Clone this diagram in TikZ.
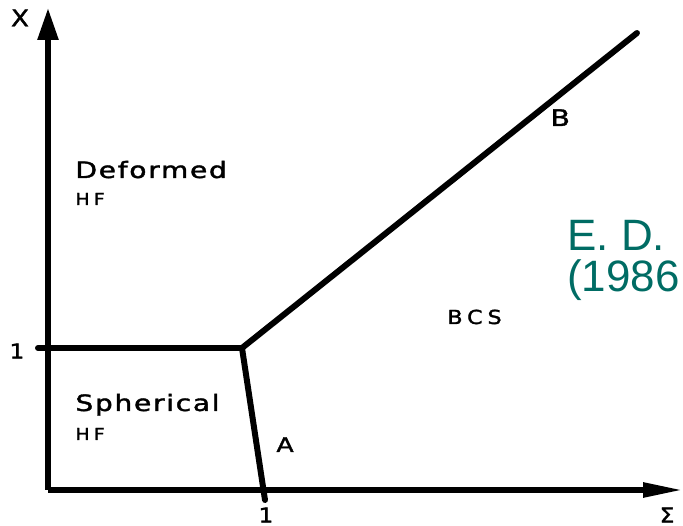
\documentclass[tikz,border=0pt]{standalone}
\usepackage{fontspec}
\usepackage{tikz}
\usetikzlibrary{arrows.meta, calc}
\newfontfamily\plotfont[LetterSpace=6, FakeBold=1.5]{DejaVu Sans}
\newfontfamily\plotfontwide[LetterSpace=22, FakeBold=1.5]{DejaVu Sans}
\newfontfamily\citefont{Liberation Sans}
\definecolor{citeteal}{RGB}{0,108,100}
\tikzset{
    axisline/.style={line width=3.2pt},
    phaseline/.style={line width=3.4pt, line cap=round, line join=round},
    regionlbl/.style={anchor=base west, inner sep=0pt, xscale=1.25, font=\plotfont\fontsize{12.8}{13}\selectfont},
    sublbl/.style={anchor=base west, inner sep=0pt, xscale=1.15, font=\plotfontwide\fontsize{9.4}{10}\selectfont},
    ticklbl/.style={inner sep=0pt, xscale=1.15, font=\plotfont\fontsize{11.5}{12}\selectfont},
    citelbl/.style={anchor=base west, inner sep=0pt, text=citeteal, align=left, font=\citefont\fontsize{25}{23.6}\selectfont},
}

\begin{document}
\begin{tikzpicture}[x=0.02cm, y=-0.02cm]
\useasboundingbox (0,0) rectangle (683,526);
% points of the phase diagram
\coordinate (O) at (48,490);
\coordinate (Ytop) at (48,8);
\coordinate (Xend) at (683,490);
\coordinate (Yone) at (38,348);
\coordinate (P) at (242,348);
\coordinate (Q) at (265,500);
\coordinate (R) at (637,33);
% axes
\draw[axisline, -{Triangle[length=0.64cm, width=0.40cm]}] (O) -- (Ytop);
\draw[axisline, -{Triangle[length=0.80cm, width=0.28cm]}] (O) -- (Xend);
\node[ticklbl, font=\plotfont\fontsize{13}{13}\selectfont] (xlbl) at (20,18) {X};
\node[ticklbl, font=\plotfont\fontsize{11.5}{11}\selectfont] (slbl) at (667,515) {Σ};
\node[ticklbl] (yone) at (17,351) {1};
\node[ticklbl] (xone) at (266,515) {1};
% phase boundaries
\draw[phaseline] (Yone) -- (P) -- (R);
\draw[phaseline] (P) -- (Q);
% regions
\node[regionlbl] (def) at (75,178) {Deformed};
\node[sublbl] (defhf) at (75,205) {HF};
\node[regionlbl] (sph) at (75,411) {Spherical};
\node[sublbl] (sphhf) at (75,440) {HF};
\node[sublbl, font=\plotfontwide\fontsize{11}{11}\selectfont] (bcs) at (447,324) {BCS};
\node[regionlbl, font=\plotfont\fontsize{11.5}{12}\selectfont] (alb) at (276,452) {A};
\node[regionlbl, font=\plotfont\fontsize{13}{14}\selectfont] (blb) at (550,126) {B};
% reference
\node[citelbl] (cite) at (567,292) {E. D.\\(1986};
\end{tikzpicture}
\end{document}
